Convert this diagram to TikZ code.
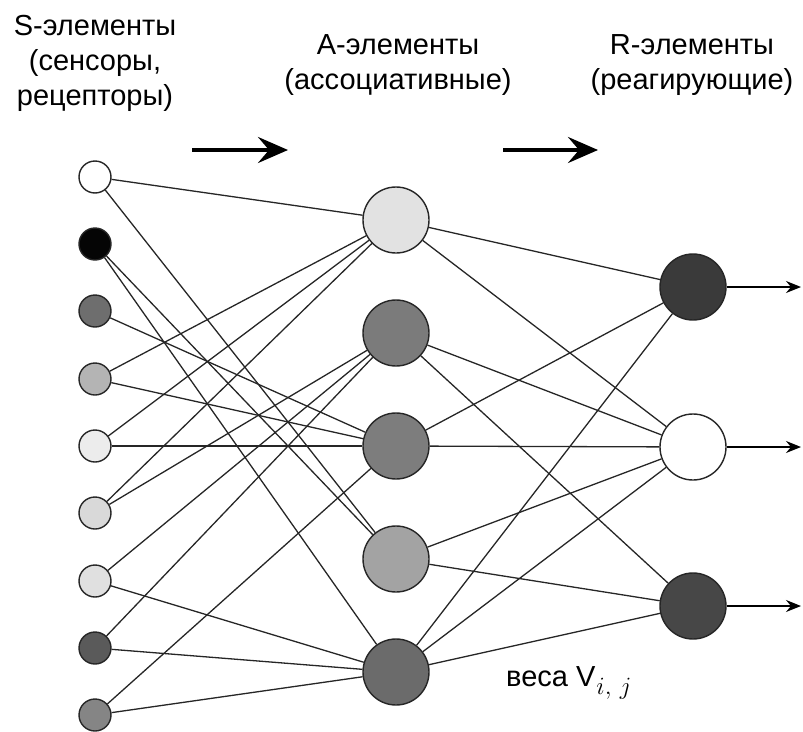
\documentclass[tikz,border=0pt]{standalone}
\usepackage{fontspec}
\setmainfont{Liberation Sans}
\usetikzlibrary{arrows.meta}
\definecolor{cS1}{HTML}{FFFFFF}
\definecolor{cS2}{HTML}{050505}
\definecolor{cS3}{HTML}{6E6E6E}
\definecolor{cS4}{HTML}{B4B4B4}
\definecolor{cS5}{HTML}{ECECEC}
\definecolor{cS6}{HTML}{D9D9D9}
\definecolor{cS7}{HTML}{E0E0E0}
\definecolor{cS8}{HTML}{5A5A5A}
\definecolor{cS9}{HTML}{858585}
\definecolor{cA1}{HTML}{E2E2E2}
\definecolor{cA2}{HTML}{7B7B7B}
\definecolor{cA3}{HTML}{7D7D7D}
\definecolor{cA4}{HTML}{A3A3A3}
\definecolor{cA5}{HTML}{6B6B6B}
\definecolor{cR1}{HTML}{3A3A3A}
\definecolor{cR2}{HTML}{FFFFFF}
\definecolor{cR3}{HTML}{474747}
\definecolor{edge}{HTML}{262626}
\begin{document}
\begin{tikzpicture}[x=1pt,y=-1pt,
  snode/.style={circle,draw=edge,line width=1.4pt,minimum size=32pt,inner sep=0pt},
  bnode/.style={circle,draw=edge,line width=1.4pt,minimum size=66pt,inner sep=0pt},
  link/.style={draw=edge,line width=1.3pt},
  outarrow/.style={draw=black,line width=1.3pt,-{Stealth[length=15pt,width=12pt,inset=5pt]}},
  bigarrow/.style={draw=black,line width=4pt,-{Stealth[length=30pt,width=26pt,inset=11pt]}},
  hdr/.style={font=\fontsize{29}{35}\selectfont,align=center,inner sep=0pt},
  lbl/.style={font=\fontsize{29}{35}\selectfont,inner sep=0pt,anchor=base west}
]
\useasboundingbox (0,0) rectangle (803,731);
% headers
\node[hdr] (hS) at (95,63) {S-элементы\\(сенсоры,\\рецепторы)};
\node[hdr] (hA) at (398,65) {A-элементы\\(ассоциативные)};
\node[hdr] (hR) at (692,65) {R-элементы\\(реагирующие)};
\coordinate (h1s) at (192,150);
\coordinate (h1e) at (288,150);
\coordinate (h2s) at (503,150);
\coordinate (h2e) at (598,150);
\draw[bigarrow] (h1s) -- (h1e);
\draw[bigarrow] (h2s) -- (h2e);
% S nodes
\node[snode,fill=cS1] (S1) at (95,177) {};
\node[snode,fill=cS2] (S2) at (95,244) {};
\node[snode,fill=cS3] (S3) at (95,311) {};
\node[snode,fill=cS4] (S4) at (95,379) {};
\node[snode,fill=cS5] (S5) at (95,446) {};
\node[snode,fill=cS6] (S6) at (95,513) {};
\node[snode,fill=cS7] (S7) at (95,581) {};
\node[snode,fill=cS8] (S8) at (95,648) {};
\node[snode,fill=cS9] (S9) at (95,715) {};
% A nodes
\node[bnode,fill=cA1] (A1) at (396,220) {};
\node[bnode,fill=cA2] (A2) at (396,333) {};
\node[bnode,fill=cA3] (A3) at (396,446) {};
\node[bnode,fill=cA4] (A4) at (396,559) {};
\node[bnode,fill=cA5] (A5) at (396,672) {};
% R nodes
\node[bnode,fill=cR1] (R1) at (693,287) {};
\node[bnode,fill=cR2] (R2) at (693,447) {};
\node[bnode,fill=cR3] (R3) at (693,606) {};
% S -> A
\foreach \s/\a in {S1/A1,S1/A4,S2/A4,S2/A5,S3/A3,S4/A1,S4/A3,S5/A1,S5/A3,
                   S6/A1,S6/A2,S7/A2,S7/A5,S8/A2,S8/A5,S9/A3,S9/A5}
  \draw[link] (\s) -- (\a);
% A -> R
\foreach \a/\r in {A1/R1,A1/R2,A2/R2,A2/R3,A3/R1,A3/R2,A4/R2,A4/R3,A5/R1,A5/R2,A5/R3}
  \draw[link] (\a) -- (\r);
% outputs
\coordinate (o1) at (801,287);
\coordinate (o2) at (801,447);
\coordinate (o3) at (801,606);
\draw[outarrow] (R1) -- (o1);
\draw[outarrow] (R2) -- (o2);
\draw[outarrow] (R3) -- (o3);
% weights label
\node[lbl] (w) at (506,686) {веса V\kern1pt\raisebox{-8pt}{\fontsize{24}{24}\selectfont$i,\,j$}};
\end{tikzpicture}
\end{document}
